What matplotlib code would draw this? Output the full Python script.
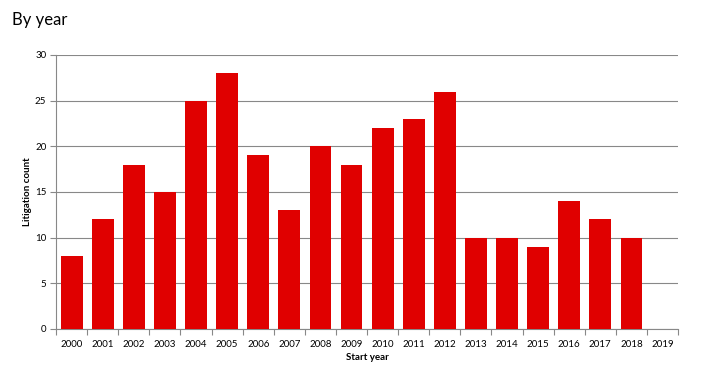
import matplotlib
matplotlib.use("Agg")
import matplotlib.pyplot as plt
import numpy as np

years = [str(y) for y in range(2000, 2020)]
counts = [8, 12, 18, 15, 25, 28, 19, 13, 20, 18, 22, 23, 26, 10, 10, 9, 14, 12, 10, 0]
y_ticks = [0, 5, 10, 15, 20, 25, 30]

plt.rcParams['font.family'] = ['Lato', 'DejaVu Sans']

fig = plt.figure(figsize=(7.1, 3.75), dpi=100)
ax = fig.add_axes([0.079, 0.1227, 0.876, 0.7307])

x = np.arange(len(years))
ax.bar(x, counts, width=0.7, color='#e00000', zorder=3)

ax.set_xlim(-0.5, len(years) - 0.5)
ax.set_ylim(0, 30)
ax.set_yticks(y_ticks)
ax.set_yticklabels([str(v) for v in y_ticks], fontsize=7)
ax.set_xticks(x)
ax.set_xticklabels(years, fontsize=7)
ax.set_xticks(np.arange(-0.5, len(years)), minor=True)
ax.tick_params(axis='x', which='major', length=0, pad=8)
ax.tick_params(axis='x', which='minor', length=4, color='#888888', width=0.8)
ax.tick_params(axis='y', length=4, color='#888888', width=0.8, pad=3)

ax.yaxis.grid(True, color='#888888', linewidth=0.8, zorder=0)
for s in ['top', 'right']:
    ax.spines[s].set_visible(False)
for s in ['left', 'bottom']:
    ax.spines[s].set_color('#888888')
    ax.spines[s].set_linewidth(0.8)

ax.set_ylabel('Litigation count', fontsize=7, fontweight='bold', labelpad=2)
ax.set_xlabel('Start year', fontsize=7, fontweight='bold', labelpad=3)

fig.text(0.017, 0.948, 'By year', fontsize=12, ha='left', va='center')

fig.savefig('out.png', dpi=100)
